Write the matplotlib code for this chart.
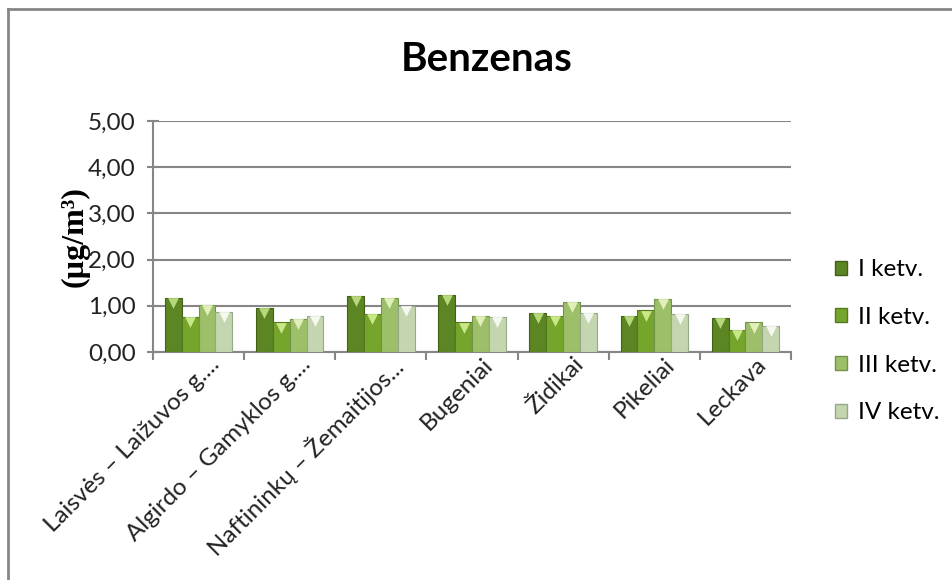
import matplotlib.pyplot as plt
import matplotlib.transforms as mtransforms
import numpy as np
from matplotlib.lines import Line2D

# station names (as shown, truncated like in the source chart)
stations = ['Laisvės – Laižuvos g....', 'Algirdo – Gamyklos g....', 'Naftininkų – Žemaitijos...',
            'Bugeniai', 'Židikai', 'Pikeliai', 'Leckava']
quarters = ['I ketv.', 'II ketv.', 'III ketv.', 'IV ketv.']

q1 = [1.18, 0.95, 1.21, 1.23, 0.84, 0.79, 0.73]
q2 = [0.76, 0.64, 0.82, 0.64, 0.79, 0.90, 0.48]
q3 = [1.01, 0.72, 1.18, 0.79, 1.09, 1.15, 0.64]
q4 = [0.87, 0.79, 0.99, 0.76, 0.84, 0.82, 0.57]

yticks = [0, 1, 2, 3, 4, 5]
ytick_labels = ['0,00', '1,00', '2,00', '3,00', '4,00', '5,00']

bar_colors = ['#5c8523', '#75a62b', '#9dbf69', '#c3d6af']
edge_colors = ['#435f18', '#55791e', '#74934a', '#96a886']
tip_colors = ['#b6d77a', '#c8e887', '#e0f0b8', '#f4f8ee']

plt.rcParams['font.family'] = ['Lato', 'DejaVu Sans']

fig = plt.figure(figsize=(9.53, 5.8), dpi=100)
ax = fig.add_axes([0.1605, 0.393, 0.6695, 0.3985])

x = np.arange(len(stations))
w = 0.185
series = [q1, q2, q3, q4]
for i, vals in enumerate(series):
    pos = x + (i - 1.5) * w
    ax.bar(pos, vals, width=w, color=bar_colors[i], edgecolor=edge_colors[i],
           linewidth=0.8, label=quarters[i], zorder=3)
    # light chevron on top of each bar, like the bevel in the original
    ax.scatter(pos, np.array(vals) - 0.11, marker='v', s=60, color=tip_colors[i],
               linewidths=0, zorder=4)

ax.set_xlim(-0.5, len(stations) - 0.5)
ax.set_ylim(0, 5)
ax.set_yticks(yticks)
ax.set_yticklabels(ytick_labels, fontsize=17.5, color='#222222')
ax.yaxis.grid(True, color='#868686', linewidth=1.5, zorder=0)
ax.set_axisbelow(True)
ax.tick_params(axis='y', direction='inout', length=9, width=1.5, color='#868686', pad=8)

# ticks between categories, labels at category centres
ax.set_xticks(np.arange(len(stations) + 1) - 0.5, minor=False)
ax.set_xticklabels([])
ax.tick_params(axis='x', direction='out', length=6, width=1.5, color='#868686')
ax.set_xticks(x, minor=True)
ax.set_xticklabels(stations, minor=True, rotation=45, ha='right', rotation_mode='anchor',
                   fontsize=17.5, color='#222222')
ax.tick_params(axis='x', which='minor', length=0, pad=4)
shift = mtransforms.ScaledTranslation(10 / 100, 4 / 100, fig.dpi_scale_trans)
for lbl in ax.get_xticklabels(minor=True):
    lbl.set_transform(lbl.get_transform() + shift)

for s in ['top', 'right']:
    ax.spines[s].set_visible(False)
for s in ['left', 'bottom']:
    ax.spines[s].set_color('#868686')
    ax.spines[s].set_linewidth(1.5)

ax.set_ylabel('(µg/m³)', family='Liberation Serif', fontweight='bold', fontsize=23)
ax.yaxis.set_label_coords(-0.1, 0.5)
fig.suptitle('Benzenas', fontsize=29, fontweight='bold', x=0.511, y=0.93)

handles = [plt.Rectangle((0, 0), 1, 1, facecolor=bar_colors[i], edgecolor=edge_colors[i])
           for i in range(4)]
fig.legend(handles, quarters, loc='upper left', bbox_to_anchor=(0.876, 0.553),
           frameon=False, fontsize=17.5, labelspacing=1.1, handlelength=0.5,
           handleheight=0.5, handletextpad=0.45, borderpad=0, borderaxespad=0)

# chart border (left and top only, as in the screenshot)
fig.add_artist(Line2D([0.0089, 0.0089], [0, 0.985], transform=fig.transFigure,
                      color='#868686', linewidth=2))
fig.add_artist(Line2D([0.0089, 1], [0.985, 0.985], transform=fig.transFigure,
                      color='#868686', linewidth=2))

fig.savefig('out.png', dpi=100)
